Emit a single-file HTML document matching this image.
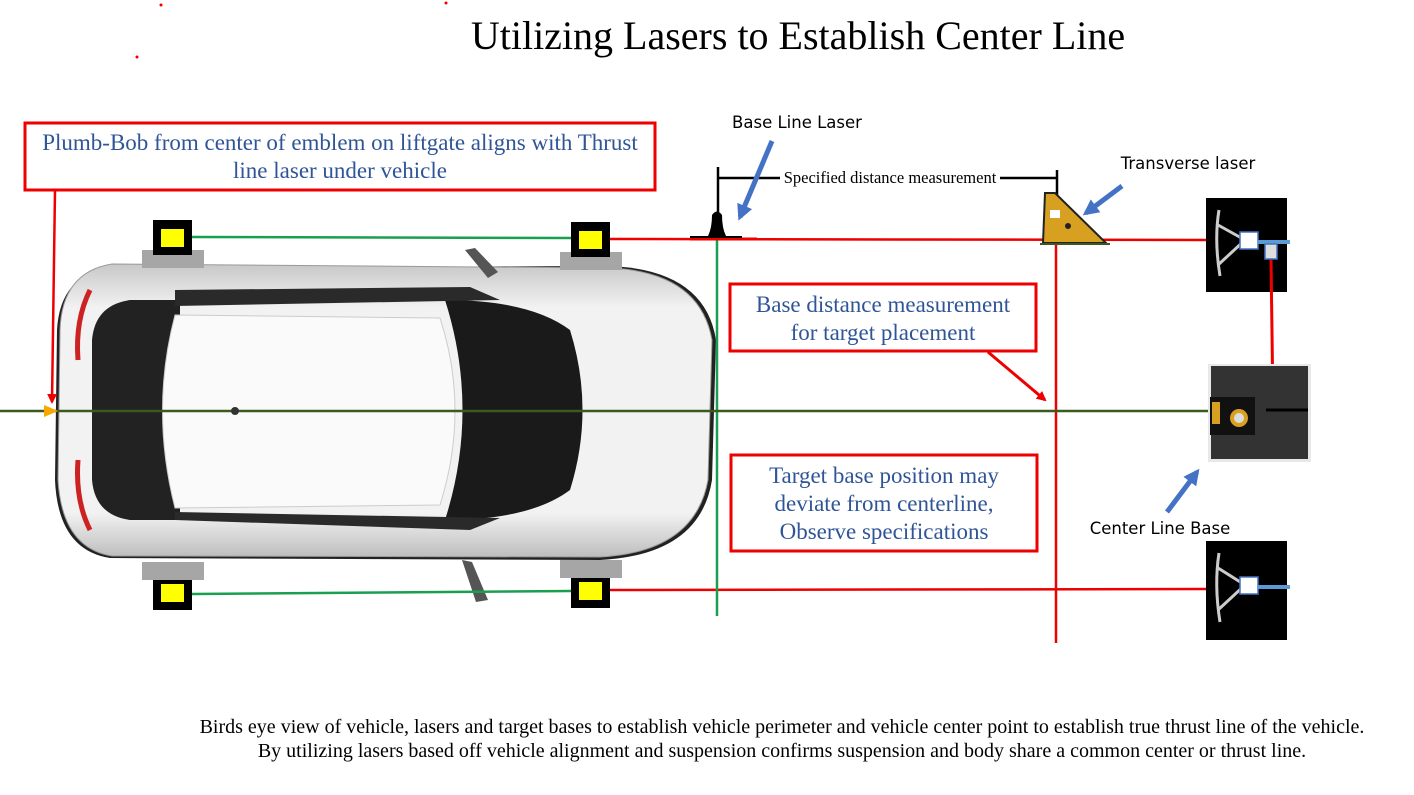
<!DOCTYPE html>
<html><head><meta charset="utf-8"><style>
html,body{margin:0;padding:0;background:#fff;}
svg{display:block;}
.s{font-family:"Liberation Serif",serif;}
.a{font-family:"DejaVu Sans","Liberation Sans",sans-serif;}
</style></head><body>
<svg width="1414" height="795" viewBox="0 0 1414 795" xmlns="http://www.w3.org/2000/svg">
<defs>
<marker id="ra" markerWidth="10" markerHeight="10" refX="8" refY="5" orient="auto" markerUnits="userSpaceOnUse"><path d="M0,0 L10,5 L0,10 z" fill="#e00"/></marker>
<marker id="ba" markerWidth="16" markerHeight="16" refX="12" refY="8" orient="auto" markerUnits="userSpaceOnUse"><path d="M0,0 L16,8 L0,16 z" fill="#4472c4"/></marker>
<linearGradient id="body" x1="0" y1="0" x2="0" y2="1"><stop offset="0" stop-color="#c8c8c8"/><stop offset="0.15" stop-color="#f2f2f2"/><stop offset="0.85" stop-color="#f2f2f2"/><stop offset="1" stop-color="#bdbdbd"/></linearGradient>
</defs>
<circle cx="161" cy="5" r="1.5" fill="#e00"/><circle cx="446" cy="3" r="1.5" fill="#e00"/><circle cx="137" cy="57" r="1.5" fill="#e00"/>
<text x="798" y="49" class="s" font-size="40" text-anchor="middle" fill="#000">Utilizing Lasers to Establish Center Line</text>

<!-- car -->
<path d="M110,268 Q60,275 57,330 L55,480 Q58,550 110,558 L600,560 Q700,555 712,480 L716,340 Q705,270 610,266 Z" fill="#222"/>
<path d="M112,264 Q62,272 60,330 L58,480 Q62,548 112,556 L600,557 Q695,552 708,480 L712,340 Q700,272 610,268 Z" fill="url(#body)" stroke="#999"/>
<path d="M130,300 Q95,305 92,340 L92,480 Q95,515 130,520 L180,520 L180,300 Z" fill="#222"/>
<path d="M175,315 L440,318 Q470,410 440,505 L175,508 Q150,410 175,315 Z" fill="#fafafa" stroke="#ccc"/>
<path d="M445,300 Q530,300 570,330 Q595,410 570,490 Q530,520 445,520 Q480,410 445,300 Z" fill="#1a1a1a"/>
<path d="M175,290 L470,287 L500,300 L175,306 Z" fill="#2a2a2a"/>
<path d="M175,520 L470,530 L500,518 L175,512 Z" fill="#2a2a2a"/>
<path d="M465,250 L475,248 L498,272 L488,278 Z" fill="#555"/>
<path d="M462,560 L472,562 L488,600 L476,602 Z" fill="#555"/>
<path d="M90,290 Q75,320 78,360" stroke="#c22" stroke-width="5" fill="none"/>
<path d="M90,530 Q75,500 78,460" stroke="#c22" stroke-width="5" fill="none"/>

<!-- wheel sensors -->
<rect x="142" y="250" width="62" height="18" fill="#a6a6a6"/>
<rect x="560" y="252" width="62" height="18" fill="#a6a6a6"/>
<rect x="142" y="562" width="62" height="18" fill="#a6a6a6"/>
<rect x="560" y="560" width="62" height="18" fill="#a6a6a6"/>
<rect x="153" y="220" width="39" height="35" fill="#000"/><rect x="161" y="229" width="23" height="18" fill="#ff0"/>
<rect x="571" y="222" width="39" height="35" fill="#000"/><rect x="579" y="231" width="23" height="18" fill="#ff0"/>
<rect x="153" y="580" width="39" height="30" fill="#000"/><rect x="161" y="584" width="23" height="18" fill="#ff0"/>
<rect x="571" y="578" width="39" height="30" fill="#000"/><rect x="579" y="582" width="23" height="18" fill="#ff0"/>
<line x1="192" y1="237" x2="571" y2="238" stroke="#1a9f50" stroke-width="2.5"/>
<line x1="192" y1="594" x2="571" y2="591" stroke="#1a9f50" stroke-width="2.5"/>

<!-- laser lines -->
<line x1="610" y1="239" x2="1206" y2="240" stroke="#e00" stroke-width="2.5"/>
<line x1="610" y1="590" x2="1206" y2="589" stroke="#e00" stroke-width="2.5"/>
<line x1="717" y1="238" x2="717" y2="616" stroke="#1a9f50" stroke-width="2.5"/>
<line x1="1056" y1="240" x2="1056" y2="643" stroke="#e00" stroke-width="2.5"/>
<line x1="0" y1="411" x2="1210" y2="411" stroke="#3d5a1e" stroke-width="2.5"/>
<circle cx="235" cy="411" r="4" fill="#333"/>
<path d="M58,411 L44,405 L44,417 Z" fill="#f5a800"/>

<!-- box 1 -->
<rect x="25" y="123" width="630" height="67" fill="#fff" stroke="#e00" stroke-width="3"/>
<text x="340" y="150" class="s" font-size="23" text-anchor="middle" fill="#2f5597">Plumb-Bob from center of emblem on liftgate aligns with Thrust</text>
<text x="340" y="178" class="s" font-size="23" text-anchor="middle" fill="#2f5597">line laser under vehicle</text>
<line x1="55" y1="190" x2="52" y2="402" stroke="#e00" stroke-width="2.5" marker-end="url(#ra)"/>

<!-- base line laser -->
<line x1="690" y1="239" x2="757" y2="239" stroke="#e00" stroke-width="3"/>
<line x1="690" y1="237" x2="742" y2="237" stroke="#000" stroke-width="2"/>
<path d="M708,236 Q712,228 712,215 Q717,208 722,215 Q722,228 726,236 Z" fill="#000"/>
<line x1="718" y1="167" x2="718" y2="212" stroke="#000" stroke-width="2.5"/>
<line x1="718" y1="178" x2="780" y2="178" stroke="#000" stroke-width="2.5"/>
<line x1="1000" y1="178" x2="1057" y2="178" stroke="#000" stroke-width="2.5"/>
<line x1="1057" y1="170" x2="1057" y2="196" stroke="#000" stroke-width="2.5"/>
<text x="890" y="183" class="s" font-size="16.5" text-anchor="middle" fill="#000">Specified distance measurement</text>
<text x="797" y="128" class="a" font-size="16.5" text-anchor="middle" fill="#000">Base Line Laser</text>
<line x1="772" y1="141" x2="740" y2="217" stroke="#4472c4" stroke-width="5" marker-end="url(#ba)"/>

<!-- transverse laser -->
<path d="M1045,193 L1055,193 L1106,243 L1043,243 Z" fill="#d8a020" stroke="#222" stroke-width="2"/>
<rect x="1050" y="210" width="10" height="8" fill="#fff"/><circle cx="1068" cy="226" r="3" fill="#222"/>
<line x1="1040" y1="244" x2="1110" y2="244" stroke="#3d5a1e" stroke-width="2"/>
<text x="1188" y="169" class="a" font-size="16.5" text-anchor="middle" fill="#000">Transverse laser</text>
<line x1="1122" y1="186" x2="1086" y2="213" stroke="#4472c4" stroke-width="5" marker-end="url(#ba)"/>

<!-- box 2 -->
<rect x="730" y="284" width="306" height="67" fill="#fff" stroke="#e00" stroke-width="3"/>
<text x="883" y="312" class="s" font-size="23" text-anchor="middle" fill="#2f5597">Base distance measurement</text>
<text x="883" y="340" class="s" font-size="23" text-anchor="middle" fill="#2f5597">for target placement</text>
<line x1="988" y1="352" x2="1045" y2="400" stroke="#e00" stroke-width="3" marker-end="url(#ra)"/>

<!-- box 3 -->
<rect x="731" y="455" width="306" height="96" fill="#fff" stroke="#e00" stroke-width="3"/>
<text x="884" y="483" class="s" font-size="23" text-anchor="middle" fill="#2f5597">Target base position may</text>
<text x="884" y="511" class="s" font-size="23" text-anchor="middle" fill="#2f5597">deviate from centerline,</text>
<text x="884" y="539" class="s" font-size="23" text-anchor="middle" fill="#2f5597">Observe specifications</text>

<!-- top target -->
<rect x="1206" y="198" width="81" height="94" fill="#000"/>
<path d="M1219,210 Q1214,240 1220,276 M1218,225 L1245,240 L1218,265" stroke="#ccc" stroke-width="3" fill="none"/>
<rect x="1240" y="232" width="18" height="17" fill="#fff" stroke="#4472c4" stroke-width="1.5"/>
<line x1="1258" y1="242" x2="1290" y2="242" stroke="#5b9bd5" stroke-width="4"/>
<rect x="1265" y="244" width="12" height="15" fill="#ddd" stroke="#4472c4" stroke-width="1.5"/>
<line x1="1271" y1="260" x2="1273" y2="405" stroke="#e00" stroke-width="3"/>

<!-- center base -->
<rect x="1208" y="364" width="103" height="98" fill="#e8e8e8"/>
<rect x="1211" y="366" width="97" height="93" fill="#333"/>
<rect x="1210" y="397" width="45" height="38" fill="#111"/>
<rect x="1212" y="402" width="8" height="22" fill="#d8a020"/>
<circle cx="1239" cy="418" r="9" fill="#d8a020"/><circle cx="1239" cy="418" r="5" fill="#ddd"/>
<line x1="1266" y1="410" x2="1308" y2="410" stroke="#000" stroke-width="3"/>
<text x="1160" y="534" class="a" font-size="16.5" text-anchor="middle" fill="#000">Center Line Base</text>
<line x1="1167" y1="512" x2="1197" y2="472" stroke="#4472c4" stroke-width="5" marker-end="url(#ba)"/>

<!-- bottom target -->
<rect x="1206" y="541" width="81" height="99" fill="#000"/>
<path d="M1219,553 Q1214,585 1220,622 M1218,568 L1245,585 L1218,610" stroke="#ccc" stroke-width="3" fill="none"/>
<rect x="1240" y="577" width="18" height="17" fill="#fff" stroke="#4472c4" stroke-width="1.5"/>
<line x1="1258" y1="587" x2="1290" y2="587" stroke="#5b9bd5" stroke-width="4"/>

<text x="782" y="733" class="s" font-size="20" text-anchor="middle" fill="#000">Birds eye view of vehicle, lasers and target bases to establish vehicle perimeter and vehicle center point to establish true thrust line of the vehicle.</text>
<text x="782" y="757" class="s" font-size="20" text-anchor="middle" fill="#000">By utilizing lasers based off vehicle alignment and suspension confirms suspension and body share a common center or thrust line.</text>
</svg>
</body></html>
